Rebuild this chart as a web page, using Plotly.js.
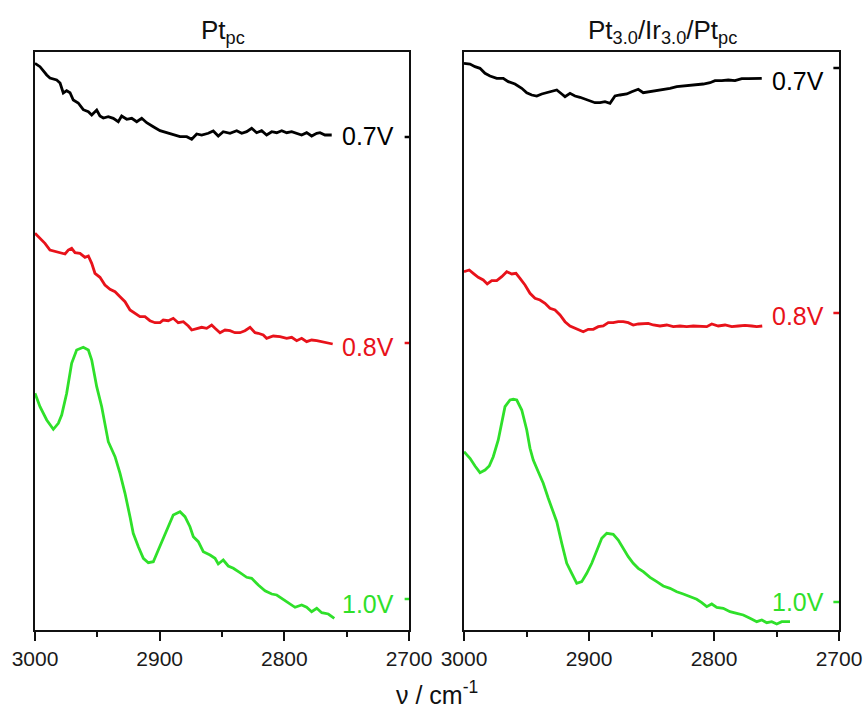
<!DOCTYPE html>
<html>
<head>
<meta charset="utf-8">
<script src="https://cdn.plot.ly/plotly-3.0.1.min.js"></script>
<style>html,body{margin:0;padding:0;background:#fff;}#chart{width:866px;height:717px;}</style>
</head>
<body>
<div id="chart"></div>
<script>
// ---- Left panel: Pt_pc ----
const ptNu07 = [3000,2996.0,2990.6,2988.0,2982.6,2979.9,2977.3,2974.6,2971.9,2969.3,2965.3,2961.3,2957.2,2954.5,2950.5,2947.9,2945.2,2941.2,2937.2,2933.2,2930.5,2926.4,2922.4,2918.4,2914.4,2910.4,2905.1,2899.7,2894.4,2889.1,2883.7,2878.3,2874.3,2870.3,2866.3,2861.0,2857.0,2853.0,2849.0,2843.6,2838.2,2834.2,2830.2,2826.2,2822.2,2818.2,2814.2,2810.1,2806.1,2802.1,2798.1,2794.1,2790.1,2786.1,2782.1,2778.1,2774.0,2771.4,2767.4,2762.0];
const ptI07 = [566.7,563.3,555,552,550,547,537,539.3,537.3,530,527,520.3,518.3,515,520,514,512,513.3,511.7,508.3,514,510.7,511.7,508.3,511.7,507.3,503.3,499.3,497.3,495,493.3,493.3,490.7,496,495,496.7,499,494,498.3,496.7,499.3,496.7,498.3,501.7,497.3,499.3,495,498.3,497.3,499.3,497.3,498.3,496.7,495,497.3,494,496.7,497.3,495,495];

const ptNu08 = [3000,2996.0,2992.0,2988.0,2982.6,2975.9,2973.3,2970.6,2967.9,2963.9,2959.9,2957.2,2954.5,2951.9,2947.9,2943.9,2939.8,2935.8,2931.8,2927.8,2923.8,2919.8,2915.8,2911.8,2907.8,2903.7,2899.7,2897.1,2893.1,2889.1,2885.1,2881.0,2877.0,2874.3,2870.3,2866.3,2862.3,2858.3,2855.6,2851.6,2847.6,2843.6,2839.6,2835.6,2831.6,2827.5,2823.5,2820.9,2816.9,2814.2,2808.9,2803.5,2798.1,2794.1,2790.1,2786.1,2782.1,2778.1,2774.0,2770.0,2766.0,2761.2];
const ptI08 = [396.7,391.7,386.7,380,378.3,376,380,381.7,377.3,376.7,372.7,374,366.7,356.7,352.7,345,340.7,338.3,333.3,328.3,320,316.7,313.3,313.3,309.3,307.3,307.3,310,309.3,311.7,307.3,308.3,304,300,301.7,302.7,301.7,305,301.7,297.3,300,299.3,297.3,297.3,299.3,302.7,297.3,296.7,295,291.7,294,293.3,291.7,292.7,289.3,291.7,288.3,290,289.3,288.3,286.7,286];

const ptNu10 = [3000,2996.0,2990.6,2985.3,2981.3,2978.6,2974.6,2970.6,2966.6,2961.3,2957.2,2954.5,2950.5,2946.5,2941.2,2935.8,2931.8,2927.8,2923.8,2921.2,2917.1,2913.1,2909.1,2905.1,2901.1,2897.1,2893.1,2889.1,2883.7,2879.7,2875.7,2873.0,2869.0,2865.0,2859.6,2855.6,2853.0,2849.0,2845.0,2840.9,2835.6,2830.2,2826.2,2820.9,2815.5,2810.1,2806.1,2800.8,2795.5,2791.4,2786.1,2782.1,2778.1,2774.0,2770.0,2764.7,2759.9];
const ptI10 = [236.7,223.3,210,200.7,206.7,215,236.7,266.7,280,282.7,280,270,243.3,223.3,188.3,173.3,156.7,136.7,113.3,96.7,83.3,71.7,67.3,68.3,80,91.7,101.7,115,118.3,113.3,103.3,93.3,88.3,78.3,75,71.7,66,70,64,61.7,57.3,52.7,51.7,45,39.3,36,35,30.7,26.7,22.7,25,22.7,18.3,21.7,17.3,16,11.7];

// ---- Right panel: Pt3.0/Ir3.0/Pt_pc ----
const irNu07 = [3000,2995.2,2991.2,2987.2,2983.2,2979.2,2973.8,2968.6,2964.6,2959.2,2953.8,2949.8,2945.8,2941.8,2937.8,2933.8,2929.8,2925.8,2921.8,2919.2,2915.2,2911.2,2907.2,2903.2,2899.2,2895.2,2891.2,2887.2,2883.2,2879.2,2875.2,2869.8,2865.8,2860.6,2856.6,2851.2,2845.8,2840.6,2835.2,2829.8,2824.6,2819.2,2813.8,2808.6,2803.2,2799.2,2793.8,2788.6,2783.2,2777.8,2772.6,2767.2,2761.8];
const irI07 = [566.7,566,563.3,561.7,556.7,554,551.7,551.7,548.3,546,541.7,537.3,535,534,536,537.3,538.3,540,536,533.3,536.7,534,532.7,530.7,529.3,527.3,527.3,528.3,526.7,534,535,536,538.3,540.7,537.3,538.3,540,540.7,541.7,543.3,544,545,545,546,547.3,549.3,549.3,550,549.3,551.3,551.3,551.7,551.7];

const irNu08 = [3000,2995.8,2992.6,2988.6,2984.6,2981.4,2977.8,2973.8,2969.8,2965.8,2961.8,2958.4,2955.2,2951.2,2947.2,2943.2,2939.2,2935.2,2931.2,2927.2,2923.2,2919.2,2915.2,2911.2,2907.2,2904.6,2900.6,2896.6,2892.6,2888.6,2884.6,2880.6,2876.6,2872.6,2868.6,2864.6,2860.6,2856.6,2852.6,2848.6,2843.2,2837.8,2832.6,2827.2,2821.8,2816.6,2811.2,2805.8,2801.8,2796.6,2791.2,2785.8,2780.6,2775.2,2769.8,2765.8,2761.4];
const irI08 = [358.3,360,356.7,352.7,350,346,349.3,349.3,353.3,358.3,356,356.7,351.7,345,336.7,331.7,330,326.7,321.7,320,315,308.3,304,301.7,300,298.3,300.7,300.7,303.3,304,307.3,307.3,308.3,308.3,307.3,305,306,306,306.7,305,304,305,303.3,304,303.3,304,303.3,303.3,306,304,305,303.3,304,304.7,304,303.3,304];

const irNu10 = [3000,2995.2,2991.2,2987.2,2983.2,2979.8,2976.6,2972.6,2967.2,2963.2,2960.6,2957.8,2953.8,2949.8,2947.2,2944.6,2940.6,2936.6,2932.6,2928.6,2925.8,2921.8,2917.8,2913.8,2909.8,2905.8,2901.8,2897.8,2893.8,2889.8,2885.8,2880.6,2876.6,2872.6,2868.6,2864.6,2860.6,2856.6,2851.2,2845.8,2840.6,2835.2,2829.8,2824.6,2819.2,2813.8,2809.8,2805.8,2801.8,2797.8,2792.6,2787.2,2781.8,2776.6,2771.2,2765.8,2761.8,2757.8,2753.8,2749.8,2745.8,2739.2];
const irI10 = [178.3,171.7,164,157.3,160,164,173.3,190,223.3,230,230.7,230,220,200,181.7,170,158.3,146.7,131.7,118.3,108.3,86.7,66.7,56.7,46.7,48.3,56.7,66.7,80,91.7,96.7,95.7,90,81.7,73.3,66.7,61.7,58.3,52.7,48.3,44,41.7,38.3,36,33.3,30.7,27.3,23.3,26,22.7,21.7,18.3,16.7,15,11.7,8.3,10,7.3,8.3,6,8.3,8.3];

// labels
const potentials = ["0.7V","0.8V","1.0V"];
const colors = ["#000000","#e8121a","#2fe02a"];
const labelYLeft = [494, 283, 26];
const labelYRight = [549, 314, 28];
const markYLeft = [493, 287, 31];
const markYRight = [562, 317, 28];
const labelNu = 2754;
const panelTitles = ["Pt<sub>pc</sub>", "Pt<sub>3.0</sub>/Ir<sub>3.0</sub>/Pt<sub>pc</sub>"];
const xTitle = "ν / cm<sup>-1</sup>";
const xTickVals = [3000, 2900, 2800, 2700];

const FONT = "Arial, 'Liberation Sans', sans-serif";
const lw = 2.8;

function tr(x, y, c, xa, ya) {
  return {x: x, y: y, type: 'scatter', mode: 'lines', line: {color: c, width: lw},
          xaxis: xa, yaxis: ya, showlegend: false, hoverinfo: 'skip'};
}

const data = [
  tr(ptNu07, ptI07, colors[0], 'x', 'y'),
  tr(ptNu08, ptI08, colors[1], 'x', 'y'),
  tr(ptNu10, ptI10, colors[2], 'x', 'y'),
  tr(irNu07, irI07, colors[0], 'x2', 'y2'),
  tr(irNu08, irI08, colors[1], 'x2', 'y2'),
  tr(irNu10, irI10, colors[2], 'x2', 'y2')
];

function xax(dom) {
  return {
    domain: dom, range: [3000, 2700], autorange: false,
    showline: true, linecolor: '#111', linewidth: 2, mirror: true,
    ticks: 'outside', ticklen: 9, tickwidth: 2, tickcolor: '#111',
    tickvals: xTickVals, ticktext: xTickVals.map(String),
    minor: {tickvals: [2950, 2850, 2750], ticks: 'outside', ticklen: 5, tickwidth: 2, tickcolor: '#111'},
    showgrid: false, zeroline: false,
    tickfont: {family: FONT, size: 21, color: '#1a1a1a'}
  };
}
function yax(anchor) {
  return {
    domain: [0, 1], range: [0, 578], autorange: false, anchor: anchor,
    showline: true, linecolor: '#111', linewidth: 2, mirror: true,
    ticks: '', showticklabels: false, showgrid: false, zeroline: false
  };
}

const annotations = [];
const shapes = [];
for (let i = 0; i < 3; i++) {
  annotations.push({xref: 'x', yref: 'y', x: labelNu, y: labelYLeft[i], text: potentials[i],
    xanchor: 'left', yanchor: 'middle', xshift: -2, showarrow: false, font: {family: FONT, size: 25, color: colors[i]}});
  annotations.push({xref: 'x2', yref: 'y2', x: labelNu, y: labelYRight[i], text: potentials[i],
    xanchor: 'left', yanchor: 'middle', xshift: -2, showarrow: false, font: {family: FONT, size: 25, color: colors[i]}});
  shapes.push({type: 'line', xref: 'x', yref: 'y', x0: 2703.5, x1: 2698.5, y0: markYLeft[i], y1: markYLeft[i],
    line: {color: colors[i], width: 2.5}});
  shapes.push({type: 'line', xref: 'x2', yref: 'y2', x0: 2704.5, x1: 2700, y0: markYRight[i], y1: markYRight[i],
    line: {color: colors[i], width: 2.5}});
}
annotations.push({xref: 'x domain', yref: 'paper', x: 0.5, y: 1, yanchor: 'bottom', yshift: 2, xshift: 1,
  text: panelTitles[0], showarrow: false, font: {family: FONT, size: 26, color: '#111'}});
annotations.push({xref: 'x2 domain', yref: 'paper', x: 0.5, y: 1, yanchor: 'bottom', yshift: 2, xshift: 11,
  text: panelTitles[1], showarrow: false, font: {family: FONT, size: 26, color: '#111'}});
annotations.push({xref: 'paper', yref: 'paper', x: 437/866, y: 0, yanchor: 'middle', yshift: -63,
  text: xTitle, showarrow: false, font: {family: FONT, size: 25, color: '#111'}});

const layout = {
  width: 866, height: 717,
  margin: {l: 0, r: 0, t: 52, b: 87},
  paper_bgcolor: '#ffffff', plot_bgcolor: '#ffffff',
  xaxis: xax([35/866, 409/866]),
  xaxis2: xax([464/866, 839/866]),
  yaxis: yax('x'),
  yaxis2: yax('x2'),
  annotations: annotations,
  shapes: shapes,
  showlegend: false
};
layout.xaxis.anchor = 'y';
layout.xaxis2.anchor = 'y2';

Plotly.newPlot('chart', data, layout, {displayModeBar: false, staticPlot: true});
</script>
</body>
</html>
